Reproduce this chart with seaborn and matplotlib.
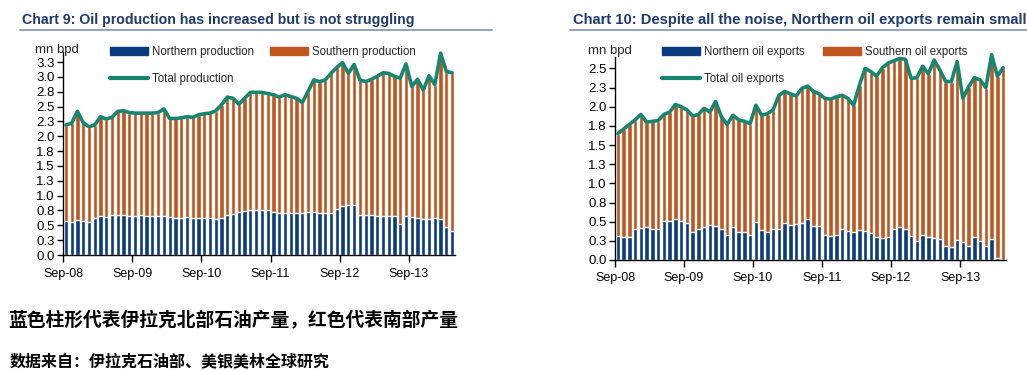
import numpy as np
import pandas as pd
import seaborn as sns
import matplotlib.pyplot as plt
from matplotlib.patches import Patch
from matplotlib.lines import Line2D

# monthly data, Sep-08 .. Apr-14 (mn bpd)
months = pd.date_range('2008-09-01', periods=68, freq='MS').strftime('%b-%y')

prod_north = [0.58, 0.56, 0.59, 0.58, 0.56, 0.63, 0.66, 0.64, 0.67, 0.67, 0.67, 0.66,
              0.66, 0.67, 0.65, 0.66, 0.66, 0.66, 0.64, 0.63, 0.63, 0.64, 0.62, 0.62,
              0.62, 0.62, 0.61, 0.62, 0.68, 0.69, 0.72, 0.74, 0.76, 0.76, 0.76, 0.76,
              0.72, 0.71, 0.71, 0.71, 0.70, 0.71, 0.73, 0.72, 0.71, 0.71, 0.70, 0.78,
              0.83, 0.85, 0.85, 0.68, 0.68, 0.67, 0.66, 0.66, 0.66, 0.65, 0.53, 0.65,
              0.64, 0.63, 0.60, 0.60, 0.62, 0.61, 0.47, 0.40]
prod_south = [1.61, 1.66, 1.83, 1.65, 1.60, 1.56, 1.67, 1.65, 1.65, 1.75, 1.76, 1.74,
              1.73, 1.72, 1.74, 1.73, 1.74, 1.80, 1.66, 1.67, 1.68, 1.69, 1.70, 1.74,
              1.76, 1.77, 1.82, 1.91, 1.98, 1.95, 1.82, 1.90, 1.98, 1.98, 1.98, 1.96,
              1.98, 1.95, 1.99, 1.96, 1.94, 1.86, 2.02, 2.23, 2.21, 2.24, 2.36, 2.38,
              2.41, 2.21, 2.36, 2.27, 2.24, 2.29, 2.35, 2.41, 2.40, 2.36, 2.45, 2.57,
              2.20, 2.33, 2.18, 2.42, 2.25, 2.79, 2.62, 2.67]

exp_north = [0.31, 0.30, 0.30, 0.40, 0.42, 0.43, 0.41, 0.40, 0.51, 0.51, 0.54, 0.51,
             0.48, 0.37, 0.40, 0.43, 0.46, 0.44, 0.41, 0.33, 0.43, 0.37, 0.37, 0.33,
             0.50, 0.39, 0.37, 0.41, 0.41, 0.48, 0.46, 0.47, 0.48, 0.53, 0.45, 0.44,
             0.33, 0.31, 0.33, 0.40, 0.38, 0.37, 0.39, 0.38, 0.35, 0.30, 0.29, 0.30,
             0.40, 0.43, 0.41, 0.31, 0.25, 0.33, 0.30, 0.29, 0.27, 0.18, 0.17, 0.26,
             0.24, 0.18, 0.30, 0.25, 0.18, 0.28, 0.02, 0.00]
exp_south = [1.34, 1.41, 1.47, 1.43, 1.48, 1.37, 1.40, 1.42, 1.39, 1.42, 1.49, 1.49,
             1.48, 1.51, 1.50, 1.55, 1.47, 1.63, 1.46, 1.44, 1.46, 1.46, 1.44, 1.45,
             1.52, 1.50, 1.54, 1.55, 1.74, 1.72, 1.71, 1.67, 1.76, 1.74, 1.75, 1.73,
             1.78, 1.79, 1.80, 1.75, 1.73, 1.65, 1.89, 2.12, 2.11, 2.10, 2.22, 2.27,
             2.20, 2.20, 2.21, 2.06, 2.13, 2.20, 2.13, 2.32, 2.21, 2.15, 2.16, 2.33,
             1.87, 2.08, 2.08, 2.10, 2.07, 2.40, 2.38, 2.51]

xtick_labels = ['Sep-08', 'Sep-09', 'Sep-10', 'Sep-11', 'Sep-12', 'Sep-13']

BLUE = '#0c3a7e'
ORANGE = '#c0561f'
TEAL = '#17856f'
NAVY = '#1f3a6e'

sns.set_theme(style='ticks')
plt.rcParams['font.family'] = ['Liberation Sans', 'DejaVu Sans']
SANS = ['Liberation Sans', 'DejaVu Sans']
CJK = ['Noto Sans CJK SC', 'DejaVu Sans']

fig = plt.figure(figsize=(10.27, 3.71), dpi=100)
W, H = 1027, 371


def px_axes(x0, x1, ytop, ybot):
    return fig.add_axes([x0 / W, 1 - ybot / H, (x1 - x0) / W, (ybot - ytop) / H])


def draw(ax, north, south, ymax, ntick):
    df = pd.DataFrame({'month': months, 'north': north, 'south': south})
    df['total'] = df['north'] + df['south']
    sns.barplot(data=df, x='month', y='total', color=ORANGE, saturation=1,
                width=0.74, ax=ax)
    sns.barplot(data=df, x='month', y='north', color=BLUE, saturation=1,
                width=0.74, ax=ax)
    ax.plot(np.arange(len(df)), df['total'], color=TEAL, lw=2.6,
            clip_on=False, solid_joinstyle='round', zorder=5)

    ax.set_xlim(-0.5, len(df) - 0.5)
    ax.set_ylim(0, ymax)
    ax.set_xticks([-0.5 + 12 * k for k in range(len(xtick_labels))])
    ax.set_xticklabels(xtick_labels, fontsize=9, family=SANS)
    yt = np.arange(ntick) * 0.25
    ax.set_yticks(yt)
    ax.set_yticklabels([f"{np.floor(v * 10 + 0.5) / 10:.1f}" for v in yt],
                       fontsize=9.5, family=SANS)
    ax.tick_params(axis='x', length=5, width=1, pad=4, colors='black')
    ax.tick_params(axis='y', length=4, width=1, pad=2, colors='black')
    ax.set_xlabel('')
    ax.set_ylabel('')
    for s in ['top', 'right']:
        ax.spines[s].set_visible(False)
    for s in ['left', 'bottom']:
        ax.spines[s].set_color('black')
        ax.spines[s].set_linewidth(1)

    return [Patch(color=BLUE), Line2D([], [], color=TEAL, lw=3), Patch(color=ORANGE)]


legend_kw = dict(ncol=2, loc='upper left', bbox_transform=fig.transFigure,
                 frameon=False, borderpad=0, borderaxespad=0, handlelength=3.3,
                 handleheight=0.6, handletextpad=0.35, labelspacing=1.3,
                 prop={'family': SANS, 'size': 8.3})

# Chart 9
ax1 = px_axes(63, 455, 52, 255)
h1 = draw(ax1, prod_north, prod_south, 3.42, 14)
ax1.legend(h1, ['Northern production', 'Total production', 'Southern production'],
           bbox_to_anchor=(110 / W, 1 - 46 / H), columnspacing=1.4, **legend_kw)
fig.text(35 / W, 1 - 50 / H, 'mn bpd', fontsize=9.5, family=SANS, va='center')

# Chart 10
ax2 = px_axes(615, 1006, 57, 260)
h2 = draw(ax2, exp_north, exp_south, 2.65, 11)
ax2.legend(h2, ['Northern oil exports', 'Total oil exports', 'Southern oil exports'],
           bbox_to_anchor=(662 / W, 1 - 46 / H), columnspacing=1.55, **legend_kw)
fig.text(588 / W, 1 - 51 / H, 'mn bpd', fontsize=9.5, family=SANS, va='center')

# titles and rules
fig.text(22 / W, 1 - 20 / H, 'Chart 9: Oil production has increased but is not struggling',
         fontsize=10.2, fontweight='bold', color=NAVY, family=SANS, va='center')
fig.text(573 / W, 1 - 20 / H, 'Chart 10: Despite all the noise, Northern oil exports remain small',
         fontsize=10.6, fontweight='bold', color=NAVY, family=SANS, va='center')
fig.add_artist(Line2D([20 / W, 492 / W], [1 - 30 / H, 1 - 30 / H],
                      transform=fig.transFigure, color='#8393ab', lw=1.2))
fig.add_artist(Line2D([570 / W, 1.0], [1 - 30 / H, 1 - 30 / H],
                      transform=fig.transFigure, color='#8393ab', lw=1.2))

# notes at the bottom
fig.text(8 / W, 1 - 321 / H, '蓝色柱形代表伊拉克北部石油产量，红色代表南部产量',
         fontsize=13.5, fontweight='bold', family=CJK, va='center', color='black')
fig.text(10 / W, 1 - 361 / H, '数据来自：伊拉克石油部、美银美林全球研究',
         fontsize=11.5, fontweight='bold', style='italic', family=CJK,
         va='center', color='black')

fig.savefig('out.png', dpi=100)
